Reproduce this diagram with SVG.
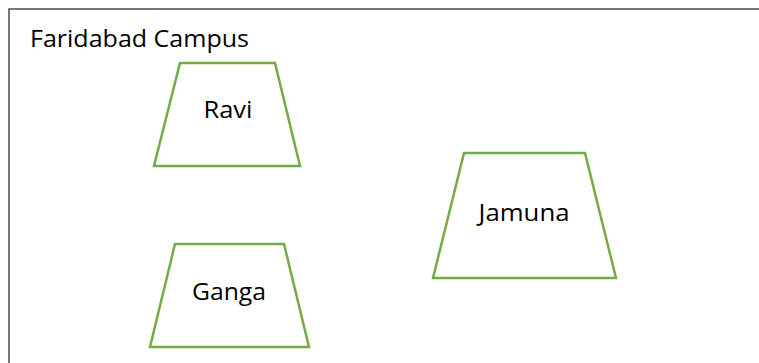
<svg xmlns="http://www.w3.org/2000/svg" width="759" height="363" viewBox="0 0 759 363">
<style>
.bg{fill:#ffffff}
.frame{fill:none;stroke:#404040;stroke-width:1.4}
.trap{fill:#ffffff;stroke:#70AD47;stroke-width:2.5}
.lbl{font-family:"Open Sans","Liberation Sans",sans-serif;font-size:23px;fill:#000000}
</style>
<rect class="bg" x="0" y="0" width="759" height="363"/>
<g id="campus">
<rect class="frame" x="9" y="9" width="800" height="400"/>
<text class="lbl" x="30" y="47" textLength="219" lengthAdjust="spacingAndGlyphs">Faridabad Campus</text>
</g>
<g id="ravi">
<polygon class="trap" points="180,63 275,63 300,166 154,166"/>
<text class="lbl" x="228" y="118" text-anchor="middle" textLength="49" lengthAdjust="spacingAndGlyphs">Ravi</text>
</g>
<g id="ganga">
<polygon class="trap" points="175,244 284,244 309,347 150,347"/>
<text class="lbl" x="229" y="300" text-anchor="middle" textLength="74" lengthAdjust="spacingAndGlyphs">Ganga</text>
</g>
<g id="jamuna">
<polygon class="trap" points="464,153 585,153 616,278 433,278"/>
<text class="lbl" x="524" y="221" text-anchor="middle" textLength="91" lengthAdjust="spacingAndGlyphs">Jamuna</text>
</g>
<g id="connectors"/>
</svg>
